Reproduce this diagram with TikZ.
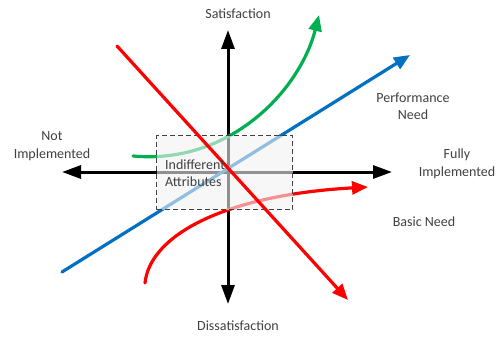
\documentclass[tikz,border=0pt]{standalone}
\usepackage{fontspec}
\setmainfont{Carlito}
\usepackage{xcolor}
\usepackage{tikz}
\usetikzlibrary{arrows.meta}
\definecolor{knInk}{HTML}{404040}
\definecolor{knRed}{HTML}{FF0000}
\definecolor{knGreen}{HTML}{00B050}
\definecolor{knBlue}{HTML}{0070C0}

\begin{document}
\begin{tikzpicture}[
    x=1pt, y=-1pt,
    axis/.style={{Triangle[length=19pt,width=13pt]}-{Triangle[length=19pt,width=13pt]}, line width=3pt, black},
    need/.style={-{Triangle[length=16pt,width=13pt]}, line width=3.2pt},
    label/.style={font=\fontsize{14}{17.5}\selectfont, text=knInk, align=center, inner sep=0pt},
    zone/.style={draw=knInk, dash pattern=on 5pt off 3pt, line width=1.1pt, fill=black!5, fill opacity=0.6},
]
\useasboundingbox (0,0) rectangle (497,337);

% --- Axes ---
\coordinate (xl) at (62,172);
\coordinate (xr) at (392,172);
\coordinate (yt) at (228,30);
\coordinate (yb) at (228,304);
\draw[axis] (xl) -- (xr);
\draw[axis] (yb) -- (yt);

% --- Need curves ---
\coordinate (perfA) at (62,272);
\coordinate (perfB) at (410,55);
\draw[need, knBlue, line cap=round] (perfA) -- (perfB);

\coordinate (exA) at (133,156);
\coordinate (exB) at (319,15);
\draw[need, knGreen, line cap=round] (exA) .. controls (230,165) and (300,90) .. (exB);

\coordinate (basA) at (145,283);
\coordinate (basB) at (368,187);
\draw[need, knRed, line cap=round] (basA) .. controls (150,235) and (225,195) .. (basB);

% --- Indifferent zone ---
\node[zone, minimum width=136pt, minimum height=74pt, anchor=north west] (zone) at (156,135) {};

% red line runs over the zone
\coordinate (mustA) at (117,46);
\coordinate (mustB) at (348,300);
\draw[need, knRed, line cap=round] (mustA) -- (mustB);

\node[label, align=left, anchor=west] (indiff) at (165,173) {Indifferent\\Attributes};

% --- Axis labels ---
\node[label] (sat) at (238,14) {Satisfaction};
\node[label] (dissat) at (238,326) {Dissatisfaction};
\node[label] (notimp) at (52,146) {Not\\Implemented};
\node[label] (fullimp) at (457,164) {Fully\\Implemented};

% --- Need labels ---
\node[label] (perf) at (413,106) {Performance\\Need};
\node[label] (basic) at (424,222) {Basic Need};

\end{tikzpicture}
\end{document}
